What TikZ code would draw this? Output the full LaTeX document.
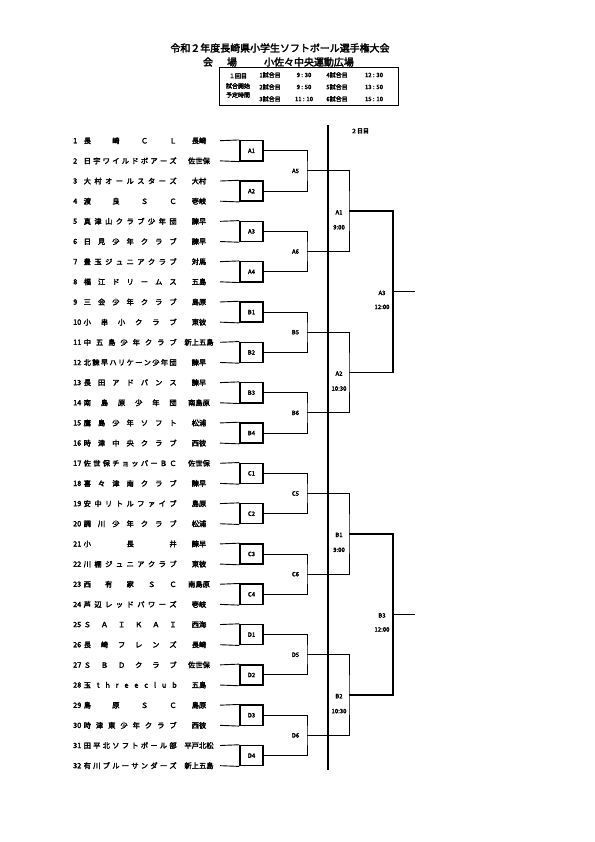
\documentclass[tikz,border=0pt]{standalone}
\usepackage{fontspec}
\setmainfont{Noto Sans CJK JP}
\newfontfamily\jpb[FakeBold=2.6]{Noto Sans CJK JP}
\begin{document}
\begin{tikzpicture}[x=1bp,y=-1bp,
  ttl/.style={font=\jpb\fontsize{10}{10}\selectfont, inner sep=0pt},
  tb/.style={font=\jpb\fontsize{6}{6}\selectfont, inner sep=0pt},
  txt/.style={font=\jpb\fontsize{7.3}{7.3}\selectfont, inner sep=0pt},
  lab/.style={font=\jpb\fontsize{6}{6}\selectfont, inner sep=0pt},
  ln/.style={line width=0.9bp},
  thk/.style={line width=1.8bp},
  bx/.style={draw, line width=1.5bp, minimum width=23bp, minimum height=20.16bp, inner sep=0pt, font=\jpb\fontsize{6}{6}\selectfont}]
\useasboundingbox (0,0) rectangle (595,842);
\fill[white] (0,0) rectangle (595,842);

% title
\node[ttl] (title) at (280,48) {令和２年度長崎県小学生ソフトボール選手権大会};
\node[ttl] (ven1) at (208,62) {会};
\node[ttl] (ven2) at (232,62) {場};
\node[ttl] (ven3) at (309,62) {小佐々中央運動広場};

% schedule table
\node[draw, line width=0.9bp, minimum width=179bp, minimum height=38bp, inner sep=0pt, anchor=north west] (tbl) at (219,67) {};
\node[tb] (h1) at (238,76) {１回目};
\node[tb] (h2) at (238,86) {試合開始};
\node[tb] (h3) at (238,95) {予定時間};
\foreach \r/\yy/\ga/\ta/\gb/\tbb in {1/75/1試合目/9 : 30/4試合目/12 : 30, 2/87/2試合目/9 : 50/5試合目/13 : 50, 3/99/3試合目/11 : 10/6試合目/15 : 10} {
  \node[tb] (ga\r) at (270,\yy) {\ga};
  \node[tb] (ta\r) at (304,\yy) {\ta};
  \node[tb] (gb\r) at (337,\yy) {\gb};
  \node[tb] (tb\r) at (374,\yy) {\tbb};
}

% teams
\foreach \i/\nm/\rg in {
 1/{長 崎 Ｃ Ｌ}/長崎,
 2/{日 宇 ワ イ ル ド ボ ア ー ズ}/佐世保,
 3/{大 村 オ ー ル ス タ ー ズ}/大村,
 4/{渡 良 Ｓ Ｃ}/壱岐,
 5/{真 津 山 ク ラ ブ 少 年 団}/諫早,
 6/{日 見 少 年 ク ラ ブ}/諫早,
 7/{豊 玉 ジ ュ ニ ア ク ラ ブ}/対馬,
 8/{福 江 ド リ ー ム ス}/五島,
 9/{三 会 少 年 ク ラ ブ}/島原,
 10/{小 串 小 ク ラ ブ}/東彼,
 11/{中 五 島 少 年 ク ラ ブ}/新上五島,
 12/{北 諫 早 ハ リ ケ ー ン 少 年 団}/諫早,
 13/{長 田 ア ド バ ン ス}/諫早,
 14/{南 島 原 少 年 団}/南島原,
 15/{鷹 島 少 年 ソ フ ト}/松浦,
 16/{時 津 中 央 ク ラ ブ}/西彼,
 17/{佐 世 保 チ ョ ッ パ ー Ｂ Ｃ}/佐世保,
 18/{喜 々 津 南 ク ラ ブ}/諫早,
 19/{安 中 リ ト ル フ ァ イ ブ}/島原,
 20/{調 川 少 年 ク ラ ブ}/松浦,
 21/{小 長 井}/諫早,
 22/{川 棚 ジ ュ ニ ア ク ラ ブ}/東彼,
 23/{西 有 家 Ｓ Ｃ}/南島原,
 24/{芦 辺 レ ッ ド パ ワ ー ズ}/壱岐,
 25/{Ｓ Ａ Ｉ Ｋ Ａ Ｉ}/西海,
 26/{長 崎 フ レ ン ズ}/長崎,
 27/{Ｓ Ｂ Ｄ ク ラ ブ}/佐世保,
 28/{玉 t h r e e c l u b}/五島,
 29/{島 原 Ｓ Ｃ}/島原,
 30/{時 津 東 少 年 ク ラ ブ}/西彼,
 31/{田 平 北 ソ フ ト ボ ー ル 部}/平戸北松,
 32/{有 川 ブ ル ー サ ン ダ ー ズ}/新上五島} {
  \pgfmathsetmacro\yy{140.7+(\i-1)*20.16}
  \node[txt, anchor=west] (n\i) at (73,\yy) {\i};
  \node[txt, anchor=west] (nm\i) at (83.5,\yy) {\makebox[93bp][s]{\nm}};
  \node[txt] (r\i) at (199,\yy) {\rg};
  \coordinate (t\i) at (220,\yy);
}

% first round boxes
\foreach \k/\lb in {1/A1,2/A2,3/A3,4/A4,5/B1,6/B2,7/B3,8/B4,9/C1,10/C2,11/C3,12/C4,13/D1,14/D2,15/D3,16/D4} {
  \pgfmathsetmacro\ym{140.7+(2*\k-1.5)*20.16}
  \node[bx] (b\k) at (251.5,\ym) {\lb};
}
\foreach \i in {1,...,32} {
  \pgfmathtruncatemacro\kk{(\i+1)/2}
  \pgfmathtruncatemacro\od{mod(\i,2)}
  \ifnum\od=1 \draw[ln] (t\i) -- (b\kk.north west); \else \draw[ln] (t\i) -- (b\kk.south west); \fi
}

% second round
\foreach \j/\lb in {1/A5,2/A6,3/B5,4/B6,5/C5,6/C6,7/D5,8/D6} {
  \pgfmathsetmacro\ym{140.7+(4*\j-2.5)*20.16}
  \pgfmathtruncatemacro\pa{2*\j-1}
  \pgfmathtruncatemacro\pb{2*\j}
  \coordinate (c\j) at (307,\ym);
  \draw[ln] (b\pa.east) -| (c\j) |- (b\pb.east);
  \node[lab] (lc\j) at (295.5,\ym) {\lb};
}

% divider
\coordinate (vt) at (328,125);
\coordinate (vb) at (328,770);
\draw[line width=2bp] (vt) -- (vb);
\node[lab] (day2) at (360,131) {２日目};

% third round
\foreach \m/\lb/\tm in {1/A1/9:00,2/A2/10:30,3/B1/9:00,4/B2/10:30} {
  \pgfmathsetmacro\ym{140.7+(8*\m-4.5)*20.16}
  \pgfmathtruncatemacro\pa{2*\m-1}
  \pgfmathtruncatemacro\pb{2*\m}
  \coordinate (d\m) at (349,\ym);
  \draw[ln] (c\pa) -| (d\m) |- (c\pb);
  \node[lab] (ld\m) at (339,\ym+1) {\lb};
  \node[lab] (td\m) at (339,\ym+16) {\tm};
}

% final round
\foreach \n/\lb in {1/A3,2/B3} {
  \pgfmathsetmacro\ym{140.7+(16*\n-8.5)*20.16}
  \pgfmathtruncatemacro\pa{2*\n-1}
  \pgfmathtruncatemacro\pb{2*\n}
  \coordinate (e\n) at (393,\ym);
  \coordinate (o\n) at (415,\ym);
  \draw[thk] (d\pa) -| (e\n) |- (d\pb);
  \draw[ln] (e\n) -- (o\n);
  \node[lab] (le\n) at (382,\ym+1) {\lb};
  \node[lab] (te\n) at (382,\ym+15) {12:00};
}
\end{tikzpicture}
\end{document}
